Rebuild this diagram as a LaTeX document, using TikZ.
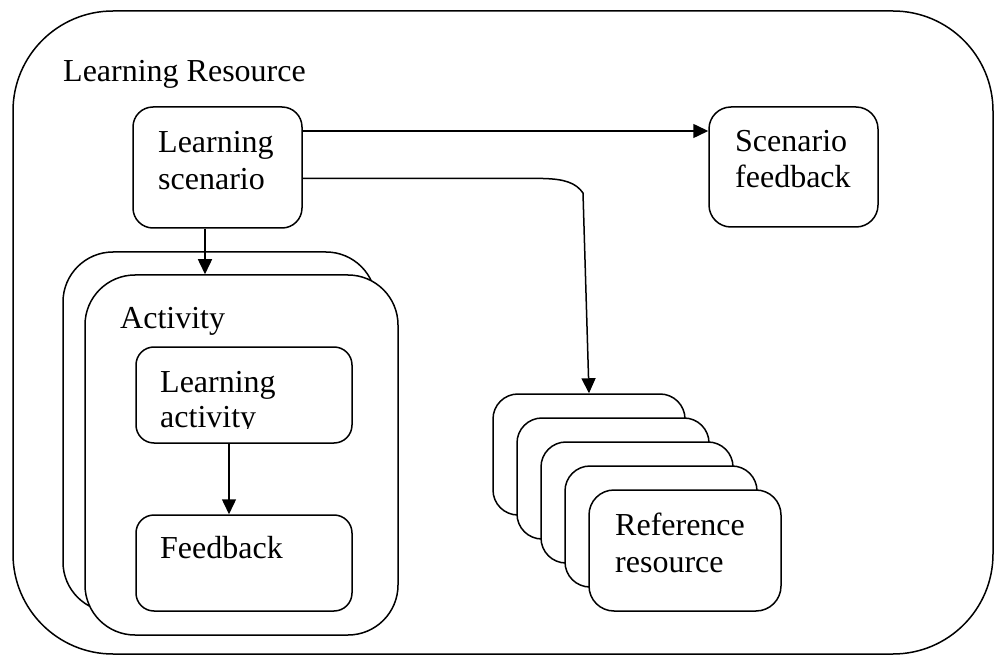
\documentclass[tikz,border=0pt]{standalone}
\usepackage{fontspec}
\setmainfont{Liberation Serif}
\usetikzlibrary{arrows.meta,calc}
\tikzset{
  box/.style={draw, fill=white, line width=1.5pt, inner sep=0pt},
  lbl/.style={inner sep=0pt, anchor=base west, align=left, font=\fontsize{32}{37}\selectfont},
  arr/.style={line width=1.5pt, -{Triangle[length=15pt,width=14pt]}}
}
\begin{document}
\begin{tikzpicture}[x=1pt,y=-1pt]
\useasboundingbox (0,0) rectangle (994,655);
% outer
\draw[line width=1.5pt, rounded corners=100pt] (13,11) rectangle (993,654);
\node[lbl] (title) at (63,82) {Learning Resource};
% learning scenario
\node[box, rounded corners=20pt, minimum width=169pt, minimum height=121pt] (ls) at (217.5,167.5) {};
\node[lbl] (lst) at (158,190) {Learning\\scenario};
% scenario feedback
\node[box, rounded corners=22pt, minimum width=169pt, minimum height=120pt] (sf) at (793.5,167) {};
\node[lbl, font=\fontsize{32}{36}\selectfont] (sft) at (735,188) {Scenario\\feedback};
% activity stack
\node[box, rounded corners=50pt, minimum width=313pt, minimum height=360pt] (actb) at (219.5,432) {};
\node[box, rounded corners=50pt, minimum width=313pt, minimum height=360pt] (actf) at (241.5,455) {};
\node[lbl] (actt) at (120,328) {Activity};
\node[box, rounded corners=18pt, minimum width=216pt, minimum height=96pt] (la) at (244,395) {};
\begin{scope}
\clip (136,347) rectangle (352,428.5);
\node[lbl, font=\fontsize{32}{35}\selectfont] (lat) at (160,427) {Learning\\activity};
\end{scope}
\node[box, rounded corners=18pt, minimum width=216pt, minimum height=96pt] (fb) at (244,563) {};
\node[lbl] (fbt) at (160,558) {Feedback};
% reference stack
\foreach \i in {0,...,4}{
  \node[box, rounded corners=25pt, minimum width=192pt, minimum height=121pt] (ref\i) at (589+24*\i,454.5+24*\i) {};
}
\node[lbl] (reft) at (615,572) {Reference\\resource};
% arrows
\draw[arr] ([yshift=36.5pt]ls.east) -- ([yshift=36pt]sf.west);
\draw[arr] ([yshift=-11pt]ls.east) -- (543,178.5) .. controls (565,179) and (576,183) .. (583,193) -- (ref0.north);
\draw[arr] ([xshift=-12.5pt]ls.south) -- ([xshift=-36.5pt]actf.north);
\draw[arr] ([xshift=-15pt]la.south) -- ([xshift=-15pt]fb.north);
\end{tikzpicture}
\end{document}
